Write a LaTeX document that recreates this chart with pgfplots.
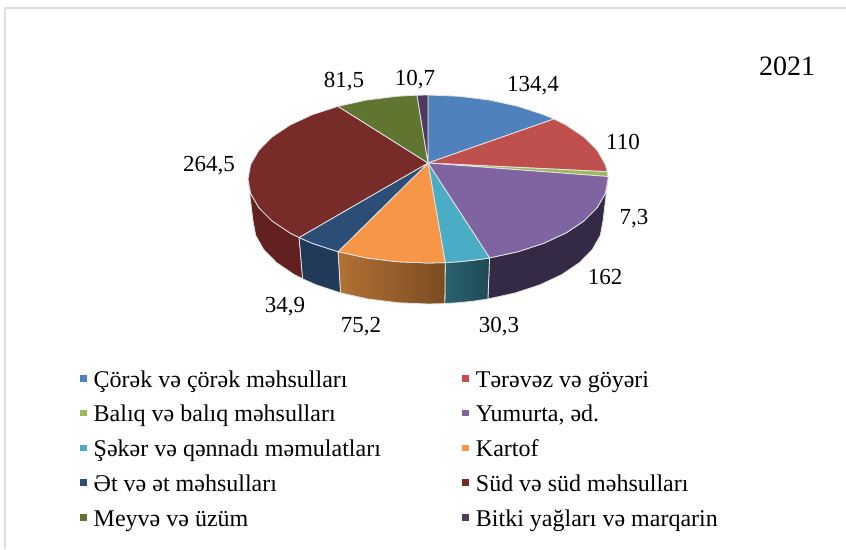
\documentclass[border=0pt]{standalone}
\usepackage{fontspec}
\setmainfont{Liberation Serif}
\usepackage{pgfplots}
\pgfplotsset{compat=1.18}
\definecolor{cA}{HTML}{4F81BD}
\definecolor{cB}{HTML}{C0504D}
\definecolor{cC}{HTML}{9BBB59}
\definecolor{cD}{HTML}{8064A2}
\definecolor{cE}{HTML}{4BACC6}
\definecolor{cF}{HTML}{F79646}
\definecolor{cG}{HTML}{2C4D75}
\definecolor{cH}{HTML}{772C2A}
\definecolor{cI}{HTML}{5F7530}
\definecolor{cJ}{HTML}{4D3B62}
\definecolor{edge}{HTML}{E4E4E4}
\begin{document}
\begin{tikzpicture}
\useasboundingbox (0,0) rectangle (846pt,549pt);
\begin{axis}[
  at={(0,0)}, anchor=south west, scale only axis,
  width=846pt, height=549pt,
  xmin=0, xmax=846, ymin=0, ymax=549, y dir=reverse,
  hide axis, clip=false,
  legend columns=2,
  legend cell align=left,
  legend image code/.code={\fill[#1,draw=none] (0pt,0pt) rectangle (6.5pt,6.5pt); \path[draw=none,fill=none] (0pt,0pt) -- (12.5pt,0pt);},
  legend style={
    at={(axis cs:80,369)}, anchor=north west, draw=none, fill=none,
    font=\fontsize{24}{26}\selectfont,
    row sep=9.75pt, inner sep=0pt,
    /tikz/every even column/.append style={column sep=80.5pt},
    nodes={inner sep=1pt, text height=17pt, text depth=6pt},
  },
  every axis plot/.append style={line width=0.8pt, line join=round},
]
% frame
\addplot[forget plot, draw=black!12, line width=1.8pt] coordinates {(5,549) (5,8) (846,8)};
% side walls
\addplot[forget plot, draw=edge, fill={rgb,255:red,53;green,42;blue,69}] coordinates {(608,179) (605.3,193.6) (597.1,207.7) (583.9,221) (565.9,233) (543.7,243.3) (518,251.7) (489.6,257.9) (487.9,299) (515.5,292.9) (540.5,284.6) (562.1,274.4) (579.6,262.5) (592.4,249.4) (600.3,235.4) (603,221)} -- cycle;
\addplot[forget plot, draw=edge, left color={rgb,255:red,42;green,98;blue,110}, right color={rgb,255:red,31;green,74;blue,84}] coordinates {(489.6,257.9) (474.6,260.1) (459.3,261.7) (445.2,262.6) (444.8,303.6) (458.4,302.7) (473.3,301.2) (487.9,299)} -- cycle;
\addplot[forget plot, draw=edge, left color={rgb,255:red,178;green,113;blue,52}, right color={rgb,255:red,122;green,76;blue,34}] coordinates {(445.2,262.6) (428,263) (396.7,261.7) (366.4,257.9) (338,251.7) (340.5,292.9) (368.1,299) (397.6,302.7) (428,304) (444.8,303.6)} -- cycle;
\addplot[forget plot, draw=edge, fill={rgb,255:red,33;green,58;blue,90}] coordinates {(338,251.7) (312.3,243.3) (299,237.5) (302.5,278.8) (315.5,284.6) (340.5,292.9)} -- cycle;
\addplot[forget plot, draw=edge, fill={rgb,255:red,98;green,33;blue,32}] coordinates {(299,237.5) (290.1,233) (272.1,221) (258.9,207.7) (250.7,193.6) (248,179) (253,221) (255.7,235.4) (263.6,249.4) (276.4,262.5) (293.9,274.4) (302.5,278.8)} -- cycle;
% top faces, in the order of the legend
\addplot[draw=edge, fill=cA] coordinates {(428,163) (428,95) (459.3,96.3) (489.6,100.1) (518,106.3) (543.7,114.7) (553.9,119)} -- cycle;
\addlegendentry{Çörək və çörək məhsulları}
\addplot[draw=edge, fill=cB] coordinates {(428,163) (553.9,119) (565.9,125) (583.9,137) (597.1,150.3) (605.3,164.4) (607.3,171.7)} -- cycle;
\addlegendentry{Tərəvəz və göyəri}
\addplot[draw=edge, fill=cC] coordinates {(428,163) (607.3,171.7) (608,176.5)} -- cycle;
\addlegendentry{Balıq və balıq məhsulları}
\addplot[draw=edge, fill=cD] coordinates {(428,163) (608,176.5) (608,179) (605.3,193.6) (597.1,207.7) (583.9,221) (565.9,233) (543.7,243.3) (518,251.7) (489.6,257.9)} -- cycle;
\addlegendentry{Yumurta, əd.}
\addplot[draw=edge, fill=cE] coordinates {(428,163) (489.6,257.9) (474.6,260.1) (459.3,261.7) (445.2,262.6)} -- cycle;
\addlegendentry{Şəkər və qənnadı məmulatları}
\addplot[draw=edge, fill=cF] coordinates {(428,163) (445.2,262.6) (428,263) (396.7,261.7) (366.4,257.9) (338,251.7)} -- cycle;
\addlegendentry{Kartof}
\addplot[draw=edge, fill=cG] coordinates {(428,163) (338,251.7) (312.3,243.3) (299,237.5)} -- cycle;
\addlegendentry{Ət və ət məhsulları}
\addplot[draw=edge, fill=cH] coordinates {(428,163) (299,237.5) (290.1,233) (272.1,221) (258.9,207.7) (250.7,193.6) (248,179) (250.7,164.4) (258.9,150.3) (272.1,137) (290.1,125) (312.3,114.7) (338,106.3)} -- cycle;
\addlegendentry{Süd və süd məhsulları}
\addplot[draw=edge, fill=cI] coordinates {(428,163) (338,106.3) (366.4,100.1) (396.7,96.3) (417,95.2)} -- cycle;
\addlegendentry{Meyvə və üzüm}
\addplot[draw=edge, fill=cJ] coordinates {(428,163) (417,95.2) (428,95)} -- cycle;
\addlegendentry{Bitki yağları və marqarin}
% labels
\node[font=\fontsize{28}{30}\selectfont] at (axis cs:787,66) {2021};
\begin{scope}[every node/.style={font=\fontsize{23}{25}\selectfont}]
\node at (axis cs:533,86) {134,4};
\node at (axis cs:623,142) {110};
\node at (axis cs:634,219) {7,3};
\node at (axis cs:605,277) {162};
\node at (axis cs:499,327) {30,3};
\node at (axis cs:361,327) {75,2};
\node at (axis cs:285,307) {34,9};
\node at (axis cs:209,166) {264,5};
\node at (axis cs:344,82) {81,5};
\node at (axis cs:415,80) {10,7};
\end{scope}
\end{axis}
\end{tikzpicture}
\end{document}
